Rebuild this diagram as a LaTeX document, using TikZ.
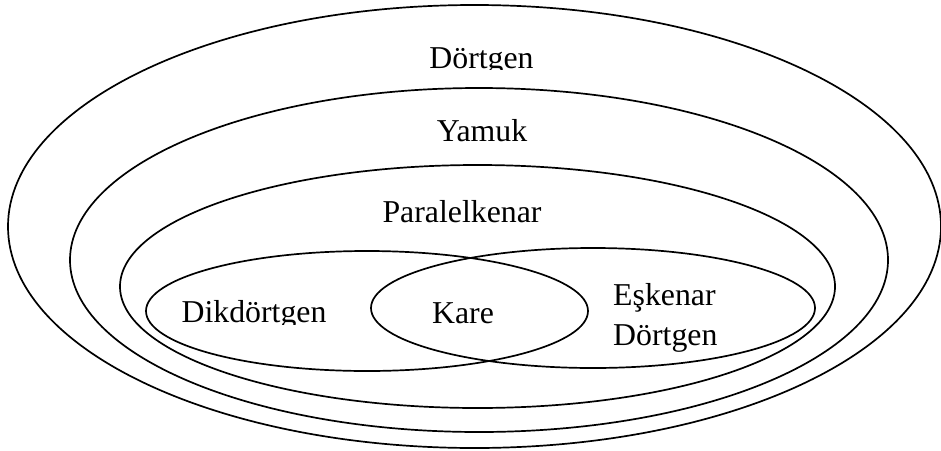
\documentclass[tikz,border=0pt]{standalone}
\usepackage{fontspec}
\setmainfont{Liberation Serif}
\begin{document}
\begin{tikzpicture}[x=1pt,y=-1pt,
  ell/.style={draw=black,line width=1.7pt},
  lbl/.style={inner sep=0pt,font=\fontsize{31.8}{40}\selectfont}]
\useasboundingbox (0,0) rectangle (941,450);
% ellipses
\draw[ell] (474.5,226.5) ellipse [x radius=466.5pt, y radius=221.5pt];
\draw[ell] (479,260) ellipse [x radius=409pt, y radius=172pt];
\draw[ell] (477.5,286.5) ellipse [x radius=357.5pt, y radius=121.5pt];
\draw[ell] (367,311) ellipse [x radius=221pt, y radius=60pt];
\draw[ell] (593,308) ellipse [x radius=222pt, y radius=60pt];
% labels (two are cut just below the baseline, as in the reference)
\begin{scope}
  \clip (400,30) rectangle (560,69.5);
  \node[lbl,anchor=base] (dortgen) at (481.5,68) {Dörtgen};
\end{scope}
\node[lbl,anchor=base] (yamuk) at (482,141) {Yamuk};
\node[lbl,anchor=base] (paralel) at (462,222) {Paralelkenar};
\begin{scope}
  \clip (170,285) rectangle (340,324.5);
  \node[lbl,anchor=base] (dik) at (254,322) {Dikdörtgen};
\end{scope}
\node[lbl,anchor=base] (kare) at (463,323) {Kare};
\node[lbl,anchor=base west] (esk1) at (613,305) {Eşkenar};
\node[lbl,anchor=base west] (esk2) at (613,345) {Dörtgen};
\end{tikzpicture}
\end{document}
